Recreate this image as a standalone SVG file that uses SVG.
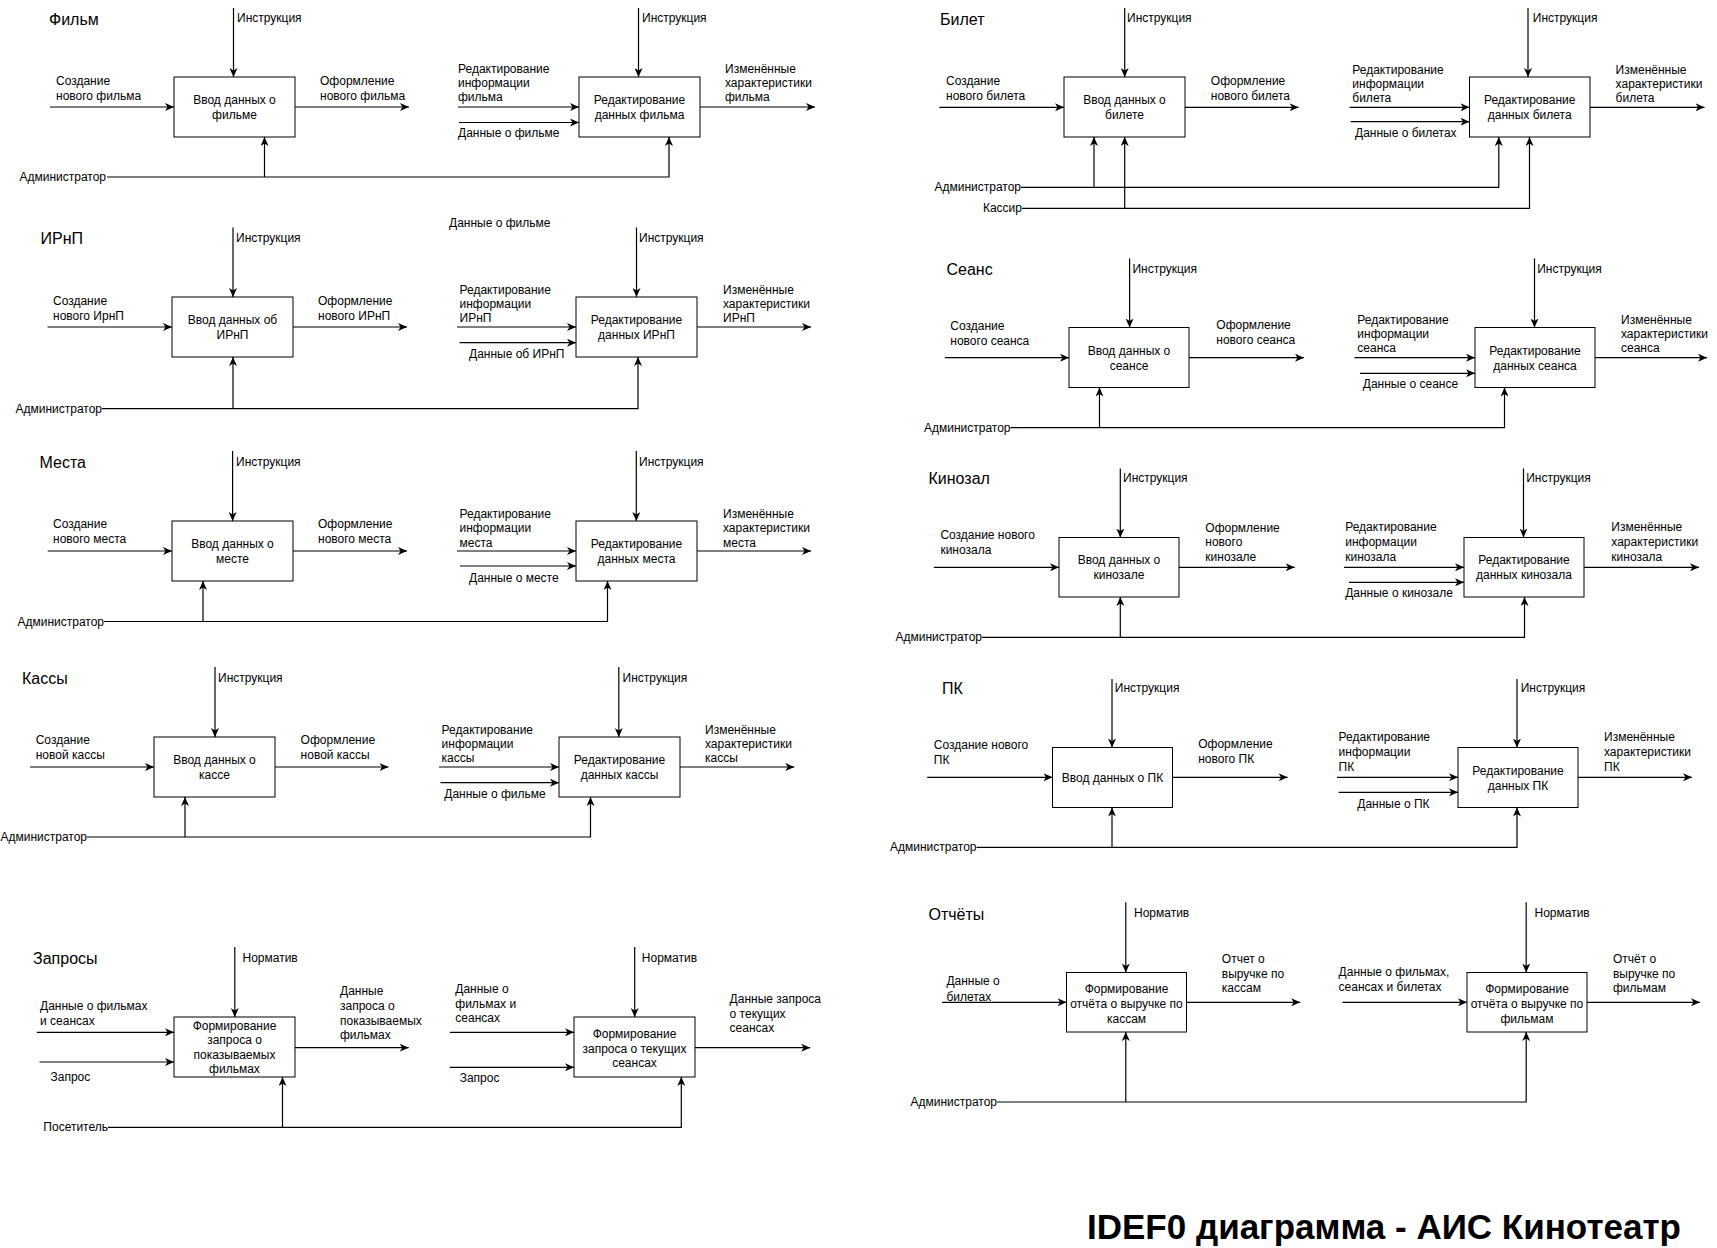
<svg xmlns="http://www.w3.org/2000/svg" width="1717" height="1248" viewBox="0 0 1717 1248">
<style>
text{font-family:"Liberation Sans",Arial,sans-serif;fill:#000}
.l{font-size:12px}
.c{font-size:12px;text-anchor:middle}
.e{font-size:12px;text-anchor:end}
.t{font-size:16px}
.h{font-size:35px;font-weight:bold}
rect{fill:#fff;stroke:#000;stroke-width:1}
.w path,.w line{fill:none;stroke:#000;stroke-width:1.2}
.a{marker-end:url(#ar)}
</style>
<defs>
<marker id="ar" markerUnits="userSpaceOnUse" markerWidth="10" markerHeight="8" refX="9" refY="4" orient="auto">
<path d="M0,0 L9,4 L0,8 L2.5,4 Z" fill="#000" stroke="none"/>
</marker>
</defs>
<rect x="0" y="0" width="1717" height="1248" style="fill:#fff;stroke:none"/>

<!-- ===== Фильм ===== -->
<text class="t" x="49" y="25">Фильм</text>
<g id="film-input">
<rect x="174" y="77" width="121" height="60"/>
<text class="c" x="234.5"><tspan x="234.5" y="104">Ввод данных о</tspan><tspan x="234.5" y="119">фильме</tspan></text>
</g>
<g id="film-edit">
<rect x="579" y="77" width="121" height="60"/>
<text class="c"><tspan x="639.5" y="104">Редактирование</tspan><tspan x="639.5" y="119">данных фильма</tspan></text>
</g>
<g class="w" id="film-connectors">
<line class="a" x1="233.5" y1="8" x2="233.5" y2="77"/>
<line class="a" x1="50" y1="107" x2="174" y2="107"/>
<line class="a" x1="295" y1="107" x2="409" y2="107"/>
<path class="a" d="M107,177 H669 V137"/>
<line class="a" x1="264.5" y1="177" x2="264.5" y2="137"/>
<line class="a" x1="638.5" y1="8" x2="638.5" y2="77"/>
<line class="a" x1="458" y1="107" x2="579" y2="107"/>
<line class="a" x1="459" y1="122.5" x2="579" y2="122.5"/>
<line class="a" x1="700" y1="107" x2="815" y2="107"/>
<text class="l" x="237" y="21.5">Инструкция</text>
<text class="l"><tspan x="56" y="84.5">Создание</tspan><tspan x="56" y="99.5">нового фильма</tspan></text>
<text class="l"><tspan x="320" y="84.5">Оформление</tspan><tspan x="320" y="99.5">нового фильма</tspan></text>
<text class="e" x="106" y="181">Администратор</text>
<text class="l" x="642" y="21.5">Инструкция</text>
<text class="l"><tspan x="458" y="73">Редактирование</tspan><tspan x="458" y="87">информации</tspan><tspan x="458" y="101">фильма</tspan></text>
<text class="l" x="458" y="136.5">Данные о фильме</text>
<text class="l"><tspan x="725" y="73">Изменённые</tspan><tspan x="725" y="87">характеристики</tspan><tspan x="725" y="101">фильма</tspan></text>
</g>

<!-- ===== ИРнП ===== -->
<text class="t" x="40.5" y="243.5">ИРнП</text>
<g id="irnp-input">
<rect x="172" y="297" width="121" height="60"/>
<text class="c"><tspan x="232.5" y="324">Ввод данных об</tspan><tspan x="232.5" y="339">ИРнП</tspan></text>
</g>
<g id="irnp-edit">
<rect x="576" y="297" width="121" height="60"/>
<text class="c"><tspan x="636.5" y="324">Редактирование</tspan><tspan x="636.5" y="339">данных ИРнП</tspan></text>
</g>
<g class="w" id="irnp-connectors">
<line class="a" x1="233" y1="227.5" x2="233" y2="297"/>
<line class="a" x1="47.5" y1="327" x2="172" y2="327"/>
<line class="a" x1="293" y1="327" x2="407" y2="327"/>
<path class="a" d="M102,408.7 H638 V357"/>
<line class="a" x1="233" y1="408.7" x2="233" y2="357"/>
<line class="a" x1="636.5" y1="227.5" x2="636.5" y2="297"/>
<line class="a" x1="457" y1="327" x2="576" y2="327"/>
<line class="a" x1="459.5" y1="342.7" x2="576" y2="342.7"/>
<line class="a" x1="697" y1="327" x2="811" y2="327"/>
<text class="l" x="236" y="242">Инструкция</text>
<text class="l"><tspan x="53" y="305">Создание</tspan><tspan x="53" y="320">нового ИрнП</tspan></text>
<text class="l"><tspan x="318" y="305">Оформление</tspan><tspan x="318" y="320">нового ИРнП</tspan></text>
<text class="e" x="102" y="412.7">Администратор</text>
<text class="l" x="449" y="226.5">Данные о фильме</text>
<text class="l" x="639" y="242">Инструкция</text>
<text class="l"><tspan x="459.5" y="294">Редактирование</tspan><tspan x="459.5" y="308">информации</tspan><tspan x="459.5" y="322">ИРнП</tspan></text>
<text class="l" x="469" y="358.3">Данные об ИРнП</text>
<text class="l"><tspan x="723" y="294">Изменённые</tspan><tspan x="723" y="308">характеристики</tspan><tspan x="723" y="322">ИРнП</tspan></text>
</g>

<!-- ===== Места ===== -->
<text class="t" x="39.5" y="468">Места</text>
<g id="mesta-input">
<rect x="172" y="521" width="121" height="60"/>
<text class="c"><tspan x="232.5" y="548">Ввод данных о</tspan><tspan x="232.5" y="563">месте</tspan></text>
</g>
<g id="mesta-edit">
<rect x="576" y="521" width="121" height="60"/>
<text class="c"><tspan x="636.5" y="548">Редактирование</tspan><tspan x="636.5" y="563">данных места</tspan></text>
</g>
<g class="w" id="mesta-connectors">
<line class="a" x1="232.6" y1="451" x2="232.6" y2="521"/>
<line class="a" x1="47.7" y1="551" x2="172" y2="551"/>
<line class="a" x1="293" y1="551" x2="407" y2="551"/>
<path class="a" d="M104,621.5 H607.5 V581"/>
<line class="a" x1="203" y1="621.5" x2="203" y2="581"/>
<line class="a" x1="636.3" y1="451" x2="636.3" y2="521"/>
<line class="a" x1="457" y1="551" x2="576" y2="551"/>
<line class="a" x1="460" y1="566" x2="576" y2="566"/>
<line class="a" x1="697" y1="551" x2="811" y2="551"/>
<text class="l" x="236" y="466">Инструкция</text>
<text class="l"><tspan x="53" y="527.5">Создание</tspan><tspan x="53" y="542.5">нового места</tspan></text>
<text class="l"><tspan x="318" y="527.5">Оформление</tspan><tspan x="318" y="542.5">нового места</tspan></text>
<text class="e" x="104" y="625.5">Администратор</text>
<text class="l" x="639" y="466">Инструкция</text>
<text class="l"><tspan x="459.5" y="517.5">Редактирование</tspan><tspan x="459.5" y="532">информации</tspan><tspan x="459.5" y="546.5">места</tspan></text>
<text class="l" x="469" y="581.7">Данные о месте</text>
<text class="l"><tspan x="723" y="517.5">Изменённые</tspan><tspan x="723" y="532">характеристики</tspan><tspan x="723" y="546.5">места</tspan></text>
</g>

<!-- ===== Кассы ===== -->
<text class="t" x="22" y="683.5">Кассы</text>
<g id="kassy-input">
<rect x="154" y="737" width="121" height="60"/>
<text class="c"><tspan x="214.5" y="764">Ввод данных о</tspan><tspan x="214.5" y="779">кассе</tspan></text>
</g>
<g id="kassy-edit">
<rect x="559" y="737" width="121" height="60"/>
<text class="c"><tspan x="619.5" y="764">Редактирование</tspan><tspan x="619.5" y="779">данных кассы</tspan></text>
</g>
<g class="w" id="kassy-connectors">
<line class="a" x1="215" y1="667" x2="215" y2="737"/>
<line class="a" x1="30" y1="767" x2="154" y2="767"/>
<line class="a" x1="275" y1="767" x2="388.5" y2="767"/>
<path class="a" d="M87,837 H590.5 V797"/>
<line class="a" x1="185" y1="837" x2="185" y2="797"/>
<line class="a" x1="618.8" y1="667" x2="618.8" y2="737"/>
<line class="a" x1="439" y1="767" x2="559" y2="767"/>
<line class="a" x1="440.5" y1="782.7" x2="559" y2="782.7"/>
<line class="a" x1="680" y1="767" x2="794.3" y2="767"/>
<text class="l" x="218" y="682">Инструкция</text>
<text class="l"><tspan x="35.7" y="743.5">Создание</tspan><tspan x="35.7" y="758.5">новой кассы</tspan></text>
<text class="l"><tspan x="300.6" y="743.5">Оформление</tspan><tspan x="300.6" y="758.5">новой кассы</tspan></text>
<text class="e" x="87" y="841">Администратор</text>
<text class="l" x="622.6" y="682">Инструкция</text>
<text class="l"><tspan x="441.6" y="734">Редактирование</tspan><tspan x="441.6" y="748.3">информации</tspan><tspan x="441.6" y="762.3">кассы</tspan></text>
<text class="l" x="444.3" y="798">Данные о фильме</text>
<text class="l"><tspan x="705" y="734">Изменённые</tspan><tspan x="705" y="748.3">характеристики</tspan><tspan x="705" y="762.3">кассы</tspan></text>
</g>

<!-- ===== Запросы ===== -->
<text class="t" x="33" y="964">Запросы</text>
<g id="zapros-films">
<rect x="174" y="1017" width="121" height="60"/>
<text class="c"><tspan x="234.5" y="1029.5">Формирование</tspan><tspan x="234.5" y="1044">запроса о</tspan><tspan x="234.5" y="1058.5">показываемых</tspan><tspan x="234.5" y="1073">фильмах</tspan></text>
</g>
<g id="zapros-seansy">
<rect x="574" y="1017" width="121" height="60"/>
<text class="c"><tspan x="634.5" y="1038">Формирование</tspan><tspan x="634.5" y="1052.7">запроса о текущих</tspan><tspan x="634.5" y="1067.3">сеансах</tspan></text>
</g>
<g class="w" id="zapros-connectors">
<line class="a" x1="234.8" y1="947" x2="234.8" y2="1017"/>
<line class="a" x1="36.8" y1="1032.3" x2="174" y2="1032.3"/>
<line class="a" x1="39.5" y1="1062" x2="174" y2="1062"/>
<line class="a" x1="295" y1="1047.7" x2="408.7" y2="1047.7"/>
<path class="a" d="M108,1127.3 H681.3 V1077"/>
<line class="a" x1="282.5" y1="1127.3" x2="282.5" y2="1077"/>
<line class="a" x1="634.7" y1="947" x2="634.7" y2="1017"/>
<line class="a" x1="449.8" y1="1032.3" x2="574" y2="1032.3"/>
<line class="a" x1="449.8" y1="1067.3" x2="574" y2="1067.3"/>
<line class="a" x1="695" y1="1047.7" x2="810.2" y2="1047.7"/>
<text class="l" x="242.5" y="961.7">Норматив</text>
<text class="l"><tspan x="40" y="1009.7">Данные о фильмах</tspan><tspan x="40" y="1025">и сеансах</tspan></text>
<text class="l" x="50.5" y="1081">Запрос</text>
<text class="l"><tspan x="340" y="994.7">Данные</tspan><tspan x="340" y="1009.7">запроса о</tspan><tspan x="340" y="1024.7">показываемых</tspan><tspan x="340" y="1039">фильмах</tspan></text>
<text class="e" x="108" y="1131.3">Посетитель</text>
<text class="l" x="641.8" y="961.7">Норматив</text>
<text class="l"><tspan x="455.3" y="993">Данные о</tspan><tspan x="455.3" y="1008.3">фильмах и</tspan><tspan x="455.3" y="1022.3">сеансах</tspan></text>
<text class="l" x="459.7" y="1082.3">Запрос</text>
<text class="l"><tspan x="729.6" y="1003">Данные запроса</tspan><tspan x="729.6" y="1018">о текущих</tspan><tspan x="729.6" y="1031.7">сеансах</tspan></text>
</g>

<!-- ===== Билет ===== -->
<text class="t" x="940" y="24.5">Билет</text>
<g id="bilet-input">
<rect x="1064" y="77" width="121" height="60"/>
<text class="c"><tspan x="1124.5" y="104">Ввод данных о</tspan><tspan x="1124.5" y="119">билете</tspan></text>
</g>
<g id="bilet-edit">
<rect x="1469.5" y="77" width="120.5" height="60"/>
<text class="c"><tspan x="1529.7" y="104">Редактирование</tspan><tspan x="1529.7" y="119">данных билета</tspan></text>
</g>
<g class="w" id="bilet-connectors">
<line class="a" x1="1124.7" y1="8" x2="1124.7" y2="77"/>
<line class="a" x1="939.3" y1="107.3" x2="1064" y2="107.3"/>
<line class="a" x1="1185" y1="107.3" x2="1298.6" y2="107.3"/>
<path class="a" d="M1021,187.3 H1498.8 V137"/>
<line class="a" x1="1094" y1="187.3" x2="1094" y2="137"/>
<path class="a" d="M1022,208.3 H1529.5 V137"/>
<line class="a" x1="1124.7" y1="208.3" x2="1124.7" y2="137"/>
<line class="a" x1="1528" y1="8" x2="1528" y2="77"/>
<line class="a" x1="1349.6" y1="107.3" x2="1469.5" y2="107.3"/>
<line class="a" x1="1350.7" y1="121.7" x2="1469.5" y2="121.7"/>
<line class="a" x1="1590" y1="107.3" x2="1704.5" y2="107.3"/>
<text class="l" x="1127" y="21.5">Инструкция</text>
<text class="l"><tspan x="946" y="84.5">Создание</tspan><tspan x="946" y="99.5">нового билета</tspan></text>
<text class="l"><tspan x="1210.8" y="84.5">Оформление</tspan><tspan x="1210.8" y="99.5">нового билета</tspan></text>
<text class="e" x="1021" y="191.3">Администратор</text>
<text class="e" x="1022" y="212.3">Кассир</text>
<text class="l" x="1532.8" y="21.5">Инструкция</text>
<text class="l"><tspan x="1352.3" y="74">Редактирование</tspan><tspan x="1352.3" y="88.3">информации</tspan><tspan x="1352.3" y="102.3">билета</tspan></text>
<text class="l" x="1355" y="137.3">Данные о билетах</text>
<text class="l"><tspan x="1615.6" y="74">Изменённые</tspan><tspan x="1615.6" y="88.3">характеристики</tspan><tspan x="1615.6" y="102.3">билета</tspan></text>
</g>

<!-- ===== Сеанс ===== -->
<text class="t" x="946.5" y="274.5">Сеанс</text>
<g id="seans-input">
<rect x="1069" y="327.5" width="120" height="60"/>
<text class="c"><tspan x="1129" y="354.5">Ввод данных о</tspan><tspan x="1129" y="369.5">сеансе</tspan></text>
</g>
<g id="seans-edit">
<rect x="1475" y="327.5" width="120" height="60"/>
<text class="c"><tspan x="1535" y="354.5">Редактирование</tspan><tspan x="1535" y="369.5">данных сеанса</tspan></text>
</g>
<g class="w" id="seans-connectors">
<line class="a" x1="1129.6" y1="258.4" x2="1129.6" y2="327.5"/>
<line class="a" x1="944.8" y1="357.7" x2="1069" y2="357.7"/>
<line class="a" x1="1189" y1="357.7" x2="1304" y2="357.7"/>
<path class="a" d="M1010.5,427.7 H1504.5 V387.5"/>
<line class="a" x1="1099.5" y1="427.7" x2="1099.5" y2="387.5"/>
<line class="a" x1="1534.5" y1="258.4" x2="1534.5" y2="327.5"/>
<line class="a" x1="1354.5" y1="357.7" x2="1475" y2="357.7"/>
<line class="a" x1="1360" y1="373.3" x2="1475" y2="373.3"/>
<line class="a" x1="1595" y1="357.7" x2="1707" y2="357.7"/>
<text class="l" x="1132.4" y="273.3">Инструкция</text>
<text class="l"><tspan x="950.3" y="330">Создание</tspan><tspan x="950.3" y="345">нового сеанса</tspan></text>
<text class="l"><tspan x="1216.3" y="329">Оформление</tspan><tspan x="1216.3" y="344">нового сеанса</tspan></text>
<text class="e" x="1010.5" y="431.7">Администратор</text>
<text class="l" x="1537.2" y="273.3">Инструкция</text>
<text class="l"><tspan x="1357.3" y="323.5">Редактирование</tspan><tspan x="1357.3" y="337.5">информации</tspan><tspan x="1357.3" y="351.5">сеанса</tspan></text>
<text class="l" x="1362.8" y="388.3">Данные о сеансе</text>
<text class="l"><tspan x="1621" y="323.5">Изменённые</tspan><tspan x="1621" y="337.5">характеристики</tspan><tspan x="1621" y="351.5">сеанса</tspan></text>
</g>

<!-- ===== Кинозал ===== -->
<text class="t" x="928.5" y="484">Кинозал</text>
<g id="kinozal-input">
<rect x="1059" y="537.5" width="120" height="59.5"/>
<text class="c"><tspan x="1119" y="564.3">Ввод данных о</tspan><tspan x="1119" y="579.3">кинозале</tspan></text>
</g>
<g id="kinozal-edit">
<rect x="1464" y="537.5" width="120" height="59.5"/>
<text class="c"><tspan x="1524" y="564.3">Редактирование</tspan><tspan x="1524" y="579.3">данных кинозала</tspan></text>
</g>
<g class="w" id="kinozal-connectors">
<line class="a" x1="1120.3" y1="468.5" x2="1120.3" y2="537.5"/>
<line class="a" x1="933.8" y1="567.3" x2="1059" y2="567.3"/>
<line class="a" x1="1179" y1="567.3" x2="1294.7" y2="567.3"/>
<path class="a" d="M982,637.3 H1524.5 V597"/>
<line class="a" x1="1120.3" y1="637.3" x2="1120.3" y2="597"/>
<line class="a" x1="1523.5" y1="468.5" x2="1523.5" y2="537.5"/>
<line class="a" x1="1344" y1="567.3" x2="1464" y2="567.3"/>
<line class="a" x1="1349" y1="582.3" x2="1464" y2="582.3"/>
<line class="a" x1="1584" y1="567.3" x2="1699" y2="567.3"/>
<text class="l" x="1123" y="482.3">Инструкция</text>
<text class="l"><tspan x="940.4" y="539">Создание нового</tspan><tspan x="940.4" y="554">кинозала</tspan></text>
<text class="l"><tspan x="1205.3" y="531.7">Оформление</tspan><tspan x="1205.3" y="546.3">нового</tspan><tspan x="1205.3" y="560.7">кинозале</tspan></text>
<text class="e" x="982" y="641.3">Администратор</text>
<text class="l" x="1526.2" y="482.3">Инструкция</text>
<text class="l"><tspan x="1345.2" y="531.3">Редактирование</tspan><tspan x="1345.2" y="546.3">информации</tspan><tspan x="1345.2" y="560.7">кинозала</tspan></text>
<text class="l" x="1345.2" y="597.3">Данные о кинозале</text>
<text class="l"><tspan x="1611.3" y="531.3">Изменённые</tspan><tspan x="1611.3" y="546.3">характеристики</tspan><tspan x="1611.3" y="560.7">кинозала</tspan></text>
</g>

<!-- ===== ПК ===== -->
<text class="t" x="942" y="694">ПК</text>
<g id="pk-input">
<rect x="1052.5" y="747.5" width="120" height="60"/>
<text class="c" x="1112.5" y="781.5">Ввод данных о ПК</text>
</g>
<g id="pk-edit">
<rect x="1458" y="747.5" width="120" height="60"/>
<text class="c"><tspan x="1518" y="774.5">Редактирование</tspan><tspan x="1518" y="789.5">данных ПК</tspan></text>
</g>
<g class="w" id="pk-connectors">
<line class="a" x1="1112" y1="679" x2="1112" y2="747.5"/>
<line class="a" x1="927.2" y1="777.3" x2="1052.5" y2="777.3"/>
<line class="a" x1="1172.5" y1="777.3" x2="1287.6" y2="777.3"/>
<path class="a" d="M976.5,847.3 H1517 V807.5"/>
<line class="a" x1="1112" y1="847.3" x2="1112" y2="807.5"/>
<line class="a" x1="1517" y1="679" x2="1517" y2="747.5"/>
<line class="a" x1="1337" y1="777.3" x2="1458" y2="777.3"/>
<line class="a" x1="1338.6" y1="792.3" x2="1458" y2="792.3"/>
<line class="a" x1="1578" y1="777.3" x2="1692" y2="777.3"/>
<text class="l" x="1114.8" y="692.3">Инструкция</text>
<text class="l"><tspan x="933.8" y="749">Создание нового</tspan><tspan x="933.8" y="764">ПК</tspan></text>
<text class="l"><tspan x="1198.2" y="748">Оформление</tspan><tspan x="1198.2" y="763">нового ПК</tspan></text>
<text class="e" x="976.5" y="851.3">Администратор</text>
<text class="l" x="1520.7" y="692.3">Инструкция</text>
<text class="l"><tspan x="1338.6" y="741.3">Редактирование</tspan><tspan x="1338.6" y="756.3">информации</tspan><tspan x="1338.6" y="770.7">ПК</tspan></text>
<text class="l" x="1357.3" y="808">Данные о ПК</text>
<text class="l"><tspan x="1604" y="741.3">Изменённые</tspan><tspan x="1604" y="756.3">характеристики</tspan><tspan x="1604" y="770.7">ПК</tspan></text>
</g>

<!-- ===== Отчёты ===== -->
<text class="t" x="928.5" y="919.5">Отчёты</text>
<g id="otchet-kassy">
<rect x="1066.5" y="972.5" width="120" height="59.5"/>
<text class="c"><tspan x="1126.5" y="993.3">Формирование</tspan><tspan x="1126.5" y="1008.3">отчёта о выручке по</tspan><tspan x="1126.5" y="1023">кассам</tspan></text>
</g>
<g id="otchet-filmy">
<rect x="1467" y="972.5" width="120" height="59.5"/>
<text class="c"><tspan x="1527" y="993.3">Формирование</tspan><tspan x="1527" y="1008.3">отчёта о выручке по</tspan><tspan x="1527" y="1023">фильмам</tspan></text>
</g>
<g class="w" id="otchet-connectors">
<line class="a" x1="1125.8" y1="902.3" x2="1125.8" y2="972.5"/>
<line class="a" x1="942" y1="1002.3" x2="1066.5" y2="1002.3"/>
<line class="a" x1="1186.5" y1="1002.3" x2="1300.2" y2="1002.3"/>
<path class="a" d="M997,1102 H1526.2 V1032"/>
<line class="a" x1="1125.8" y1="1102" x2="1125.8" y2="1032"/>
<line class="a" x1="1526.2" y1="902.3" x2="1526.2" y2="972.5"/>
<line class="a" x1="1342.5" y1="1002.3" x2="1467" y2="1002.3"/>
<line class="a" x1="1587" y1="1002.3" x2="1700" y2="1002.3"/>
<text class="l" x="1134" y="917.3">Норматив</text>
<text class="l"><tspan x="946.4" y="985">Данные о</tspan><tspan x="946.4" y="1000.5">билетах</tspan></text>
<text class="l"><tspan x="1221.8" y="963.3">Отчет о</tspan><tspan x="1221.8" y="978">выручке по</tspan><tspan x="1221.8" y="992.3">кассам</tspan></text>
<text class="e" x="997" y="1106">Администратор</text>
<text class="l" x="1534.5" y="917.3">Норматив</text>
<text class="l"><tspan x="1338.6" y="975.7">Данные о фильмах,</tspan><tspan x="1338.6" y="990.7">сеансах и билетах</tspan></text>
<text class="l"><tspan x="1612.9" y="963.3">Отчёт о</tspan><tspan x="1612.9" y="978">выручке по</tspan><tspan x="1612.9" y="992.3">фильмам</tspan></text>
</g>

<text class="h" x="1087" y="1239">IDEF0 диаграмма - АИС Кинотеатр</text>
</svg>
